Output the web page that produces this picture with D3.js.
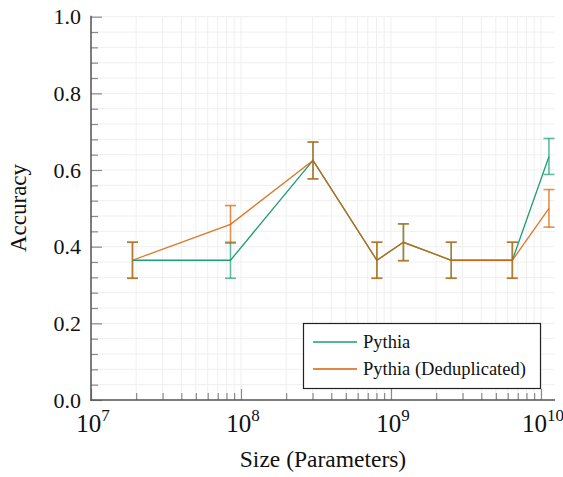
<!DOCTYPE html>
<html><head><meta charset="utf-8">
<script src="https://cdn.jsdelivr.net/npm/d3@7"></script>
</head><body style="margin:0"><svg id="c" width="563" height="477" style="display:block;font-family:'Liberation Serif'"></svg>
<script>
const sizes = [1.89e7, 8.51e7, 3.02e8, 8.05e8, 1.21e9, 2.52e9, 6.44e9, 1.13e10];
const pythia = [0.3646, 0.3646, 0.625, 0.3646, 0.4115, 0.3646, 0.3646, 0.6354];
const pythiaErr = [0.047, 0.047, 0.048, 0.047, 0.048, 0.047, 0.047, 0.047];
const dedup = [0.3646, 0.4583, 0.625, 0.3646, 0.4115, 0.3646, 0.3646, 0.5];
const dedupErr = [0.047, 0.049, 0.048, 0.047, 0.048, 0.047, 0.047, 0.049];
const seriesNames = ["Pythia", "Pythia (Deduplicated)"];
const colors = ["#1b9e77", "#d95f02"];
const yTicks = [0, 0.2, 0.4, 0.6, 0.8, 1.0];
const xMajor = [1e7, 1e8, 1e9, 1e10];
const xExp = ["7", "8", "9", "10"];

const svg = d3.select("#c");
const L = 91, R = 555, T = 16.7, B = 400;
const x = d3.scaleLog().domain([1e7, 1e7 * Math.pow(10, (R - L) / 150)]).range([L, R]);
const y = d3.scaleLinear().domain([0, 1]).range([B, T]);

const xMinor = [];
for (let e = 7; e <= 10; e++) for (let m = 1; m <= 9; m++) { const v = m * Math.pow(10, e); if (v <= x.domain()[1]) xMinor.push(v); }
const yMinor = d3.range(0, 1.0001, 0.04);

function txt(sel) { return sel.append("text").style("font-family", '"Liberation Serif"').attr("fill", "#111"); }

const g = svg.append("g");
g.selectAll(".vg").data(xMinor).enter().append("line")
  .attr("x1", d => x(d)).attr("x2", d => x(d)).attr("y1", T).attr("y2", B)
  .attr("stroke", "#efefef").attr("stroke-width", 1);
g.selectAll(".hg").data(yMinor).enter().append("line")
  .attr("x1", L).attr("x2", R).attr("y1", d => y(d)).attr("y2", d => y(d))
  .attr("stroke", "#efefef").attr("stroke-width", 1);

const xa = svg.append("g").attr("transform", `translate(0,${B})`)
  .call(d3.axisBottom(x).tickValues(xMinor).tickSizeInner(-7).tickSizeOuter(0).tickFormat(""));
xa.select(".domain").remove();
xa.selectAll(".tick text").remove();
xa.selectAll(".tick line").attr("stroke", "#8a8a8a").attr("stroke-width", 1.2)
  .attr("y2", d => xMajor.includes(d) ? -11 : -7);
const ya = svg.append("g").attr("transform", `translate(${L},0)`)
  .call(d3.axisLeft(y).tickValues(yMinor).tickSizeInner(-7).tickSizeOuter(0).tickFormat(""));
ya.select(".domain").remove();
ya.selectAll(".tick text").remove();
ya.selectAll(".tick line").attr("stroke", "#8a8a8a").attr("stroke-width", 1.2)
  .attr("x2", d => yTicks.some(t => Math.abs(t - d) < 1e-6) ? 11 : 7);

svg.append("line").attr("x1", L).attr("x2", L).attr("y1", T - 1).attr("y2", B + 0.7).attr("stroke", "#555").attr("stroke-width", 1.5);
svg.append("line").attr("x1", L - 0.7).attr("x2", R).attr("y1", B).attr("y2", B).attr("stroke", "#555").attr("stroke-width", 1.5);

yTicks.forEach(d => {
  txt(svg).attr("x", 81).attr("y", y(d) + 7.5).attr("text-anchor", "end").attr("font-size", 22).text(d.toFixed(1));
});
xMajor.forEach((v, i) => {
  const t = txt(svg).attr("x", x(v) + 2).attr("y", 432).attr("text-anchor", "middle").attr("font-size", 25);
  t.append("tspan").text("10");
  t.append("tspan").attr("dy", -11).attr("font-size", 17).text(xExp[i]);
});
txt(svg).attr("x", 323).attr("y", 467).attr("text-anchor", "middle").attr("font-size", 23.5).text("Size (Parameters)");
txt(svg).attr("transform", "translate(26,208) rotate(-90)").attr("text-anchor", "middle").attr("font-size", 23).text("Accuracy");

const all = [[pythia, pythiaErr], [dedup, dedupErr]];
const line = d3.line().x((d, i) => x(sizes[i])).y(d => y(d));
all.forEach(([vals, errs], k) => {
  const eg = svg.append("g").attr("stroke", colors[k]).attr("stroke-opacity", 0.7).attr("stroke-width", 1.6);
  vals.forEach((v, i) => {
    const cx = x(sizes[i]);
    eg.append("line").attr("x1", cx).attr("x2", cx).attr("y1", y(v - errs[i])).attr("y2", y(v + errs[i]));
    eg.append("line").attr("x1", cx - 5.5).attr("x2", cx + 5.5).attr("y1", y(v - errs[i])).attr("y2", y(v - errs[i]));
    eg.append("line").attr("x1", cx - 5.5).attr("x2", cx + 5.5).attr("y1", y(v + errs[i])).attr("y2", y(v + errs[i]));
  });
});
all.forEach(([vals], k) => {
  svg.append("path").datum(vals).attr("d", line).attr("fill", "none")
    .attr("stroke", colors[k]).attr("stroke-width", 1.3).attr("stroke-opacity", k ? 0.85 : 1);
});

const lg = svg.append("g");
lg.append("rect").attr("x", 303.5).attr("y", 323.5).attr("width", 237).attr("height", 65)
  .attr("fill", "#fff").attr("stroke", "#222").attr("stroke-width", 1.2);
seriesNames.forEach((n, i) => {
  const yy = 342 + i * 27;
  lg.append("line").attr("x1", 313).attr("x2", 357).attr("y1", yy).attr("y2", yy).attr("stroke", colors[i]).attr("stroke-width", 1.3);
  txt(lg).attr("x", 363).attr("y", yy + 6).attr("font-size", 18.5).text(n);
});
</script></body></html>
